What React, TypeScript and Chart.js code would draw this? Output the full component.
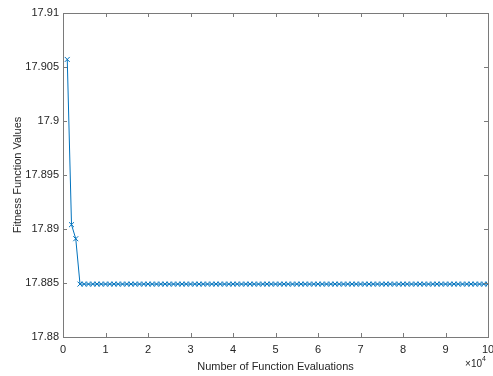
import React, { useEffect, useRef } from "react";
import { Chart, registerables } from "chart.js";

Chart.register(...registerables);

// Number of function evaluations (every 1000)
const evaluations: number[] = [];
for (let i = 1; i <= 100; i++) evaluations.push(i * 1000);

const firstValues = [17.9057, 17.8904, 17.8891];
const plateauValue = 17.8849;
const fitness: number[] = evaluations.map((_, i) => (i < firstValues.length ? firstValues[i] : plateauValue));

const xTicks = [0, 10000, 20000, 30000, 40000, 50000, 60000, 70000, 80000, 90000, 100000];
const yTicks = [17.88, 17.885, 17.89, 17.895, 17.9, 17.905, 17.91];

const FONT = "'Liberation Sans', Arial, Helvetica, sans-serif";
const TEXT = "#262626";
const AXIS = "#7a7a7a";

const boxPlugin = {
  id: "matlabBox",
  afterDraw(chart: any) {
    const { ctx, chartArea } = chart;
    const { left, right, top, bottom } = chartArea;
    const xs = chart.scales.x;
    const ys = chart.scales.y;
    ctx.save();
    ctx.strokeStyle = AXIS;
    ctx.lineWidth = 1;
    ctx.strokeRect(Math.round(left) + 0.5, Math.round(top) + 0.5, Math.round(right - left), Math.round(bottom - top));
    const tl = 4;
    ctx.beginPath();
    xTicks.forEach((v) => {
      const px = Math.round(xs.getPixelForValue(v)) + 0.5;
      ctx.moveTo(px, bottom);
      ctx.lineTo(px, bottom - tl);
      ctx.moveTo(px, top);
      ctx.lineTo(px, top + tl);
    });
    yTicks.forEach((v) => {
      const py = Math.round(ys.getPixelForValue(v)) + 0.5;
      ctx.moveTo(left, py);
      ctx.lineTo(left + tl, py);
      ctx.moveTo(right, py);
      ctx.lineTo(right - tl, py);
    });
    ctx.stroke();

    ctx.fillStyle = TEXT;
    ctx.font = `11px ${FONT}`;
    ctx.textAlign = "center";
    ctx.textBaseline = "middle";
    ctx.fillText("Number of Function Evaluations", (left + right) / 2, 367);
    ctx.save();
    ctx.translate(18, (top + bottom) / 2);
    ctx.rotate(-Math.PI / 2);
    ctx.fillText("Fitness Function Values", 0, 0);
    ctx.restore();
    ctx.textAlign = "right";
    ctx.font = `10px ${FONT}`;
    ctx.fillText("\u00d710", 482, 364);
    ctx.font = `7px ${FONT}`;
    ctx.textAlign = "left";
    ctx.fillText("4", 482, 359);
    ctx.restore();
  },
};

export default function App() {
  const ref = useRef<HTMLCanvasElement>(null);
  useEffect(() => {
    if (!ref.current) return;
    const chart = new Chart(ref.current, {
      type: "line",
      data: {
        labels: evaluations,
        datasets: [
          {
            data: evaluations.map((x, i) => ({ x, y: fitness[i] })),
            borderColor: "#0072BD",
            backgroundColor: "#0072BD",
            borderWidth: 1,
            pointStyle: "crossRot",
            pointRadius: 3.5,
            pointBorderWidth: 1,
            pointBorderColor: "#0072BD",
            fill: false,
            tension: 0,
          },
        ],
      },
      options: {
        animation: false,
        responsive: false,
        maintainAspectRatio: false,
        layout: { padding: { left: 0, right: 5, top: 13, bottom: 0 } },
        plugins: { legend: { display: false }, tooltip: { enabled: false }, title: { display: false } },
        scales: {
          x: {
            type: "linear",
            min: 0,
            max: 100000,
            afterFit: (s: any) => {
              s.height = 39;
              s.paddingLeft = 0;
              s.paddingRight = 0;
            },
            afterBuildTicks: (s: any) => {
              s.ticks = xTicks.map((v) => ({ value: v }));
            },
            grid: { display: false, drawTicks: false },
            border: { display: false },
            ticks: {
              padding: 6,
              maxRotation: 0,
              autoSkip: false,
              color: TEXT,
              font: { family: FONT, size: 11 },
              callback: (v: any) => String(Number(v) / 10000),
            },
          },
          y: {
            type: "linear",
            min: 17.88,
            max: 17.91,
            afterFit: (s: any) => {
              s.width = 63;
              s.paddingTop = 0;
              s.paddingBottom = 0;
            },
            afterBuildTicks: (s: any) => {
              s.ticks = yTicks.map((v) => ({ value: v }));
            },
            grid: { display: false, drawTicks: false },
            border: { display: false },
            ticks: {
              padding: 4,
              autoSkip: false,
              color: TEXT,
              font: { family: FONT, size: 11 },
              callback: (v: any) => String(Number(Number(v).toFixed(3))),
            },
          },
        },
      },
      plugins: [boxPlugin],
    } as any);
    return () => chart.destroy();
  }, []);
  return (
    <div style={{ position: "fixed", left: 0, top: 0, width: 493, height: 376, background: "#fff" }}>
      <canvas ref={ref} width={493} height={376} style={{ width: 493, height: 376 }} />
    </div>
  );
}
